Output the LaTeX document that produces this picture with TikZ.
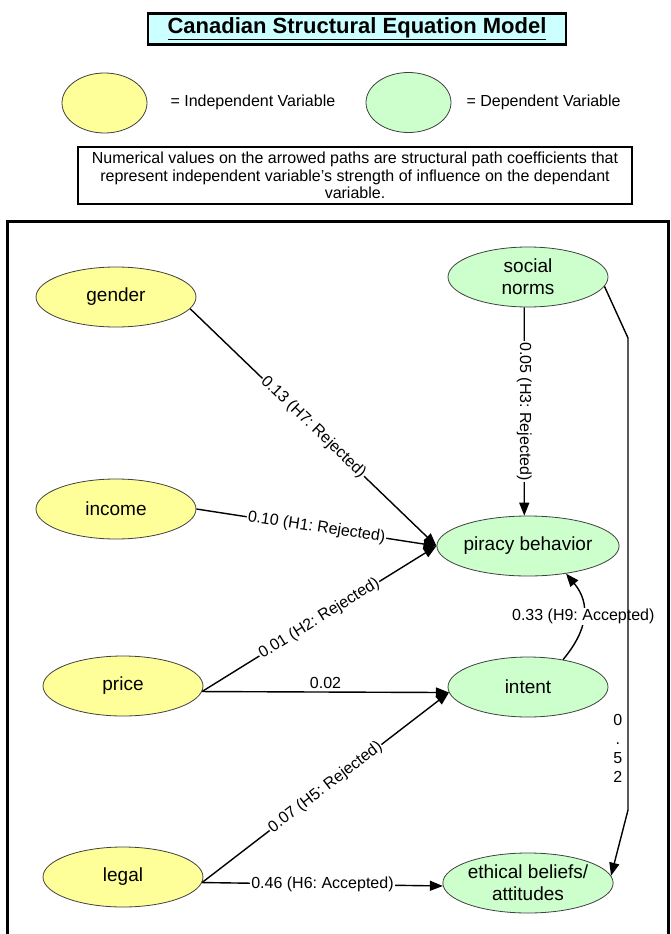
\documentclass[tikz,border=0pt]{standalone}
\usepackage{fontspec}
\setmainfont{Liberation Sans}
\usetikzlibrary{shapes.geometric,arrows.meta}
\definecolor{indep}{HTML}{FFFF99}
\definecolor{dep}{HTML}{CCFFCC}
\definecolor{titlebg}{HTML}{CCFFFF}
\definecolor{rim}{HTML}{404040}
\frenchspacing
\begin{document}
\frenchspacing
\begin{tikzpicture}[x=1pt,y=-1pt,
  var/.style={ellipse, draw=rim, line width=0.8pt, minimum width=160pt, minimum height=60pt, inner sep=0pt, align=center, font=\fontsize{19}{22}\selectfont},
  iv/.style={var, fill=indep},
  dv/.style={var, fill=dep},
  arr/.style={line width=1.4pt, -{Triangle[length=13pt,width=10pt]}},
  lbl/.style={fill=white, inner sep=1pt, font=\fontsize{16}{19}\selectfont},
  legtext/.style={anchor=west, font=\fontsize{16}{19}\selectfont},
]
\useasboundingbox (0,0) rectangle (670,934);

% title
\node[draw, line width=2.5pt, fill=titlebg, minimum width=418pt, minimum height=31pt, inner sep=0pt,
      font=\bfseries\fontsize{22}{26}\selectfont] (title) at (357,29) {\underline{Canadian Structural Equation Model}};

% legend
\node[iv, minimum width=85pt] (legiv) at (104.5,103) {};
\node[legtext] (legivt) at (167,102) {= Independent Variable};
\node[dv, minimum width=85pt] (legdv) at (408.5,102.5) {};
\node[legtext] (legdvt) at (463,102) {= Dependent Variable};

\node[draw, line width=1.5pt, minimum width=554pt, minimum height=57pt, inner sep=0pt, align=center,
      font=\fontsize{16}{17.5}\selectfont] (note) at (355,175.5)
  {Numerical values on the arrowed paths are structural path coefficients that\\
   represent independent variable’s strength of influence on the dependant\\
   variable.};

% frame
\draw[line width=3pt] (7,945) -- (7,221) -- (668,221) -- (668,945);

% variables
\node[iv] (gender) at (116,297) {gender};
\node[iv] (income) at (116,509) {income};
\node[iv] (price) at (123,686) {price};
\node[iv] (legal) at (123,877) {legal};
\node[dv] (social) at (528,277) {social\\norms};
\node[dv] (piracy) at (528,546) {piracy behavior};
\node[dv] (intent) at (528,687) {intent};
\node[dv] (ethical) at (528,883) {ethical beliefs/\\attitudes};

% paths
\draw[arr] (gender.-9) -- node[lbl, sloped] {0.13 (H7: Rejected)} (piracy.west);
\draw[arr] (income.east) -- node[lbl, sloped] {0.10 (H1: Rejected)} (piracy.west);
\draw[arr] (price.-4) -- node[lbl, sloped] {0.01 (H2: Rejected)} (piracy.west);
\draw[arr] (price.-4) -- node[above, inner sep=3pt, font=\fontsize{16}{19}\selectfont] {0.02} (intent.184);
\draw[arr] (legal.-4) -- node[lbl, sloped] {0.07 (H5: Rejected)} (intent.184);
\draw[arr] (legal.-4) -- node[lbl] {0.46 (H6: Accepted)} (ethical.182);
\draw[arr] (social.-97) -- node[lbl, rotate=-90] {0.05 (H3: Rejected)} (piracy.97);
\draw[arr] (intent.38) .. controls +(25,-30) and +(25,30) .. node[lbl] {0.33 (H9: Accepted)} (piracy.-36);

\coordinate (b1) at (628,338);
\coordinate (b2) at (628,810);
\draw[arr] (social.-7) -- (b1) -- node[pos=0.869, anchor=east, inner sep=5pt, align=center,
      font=\fontsize{16}{19}\selectfont] {0\\.\\5\\2} (b2) -- (ethical.5);
\end{tikzpicture}
\end{document}
